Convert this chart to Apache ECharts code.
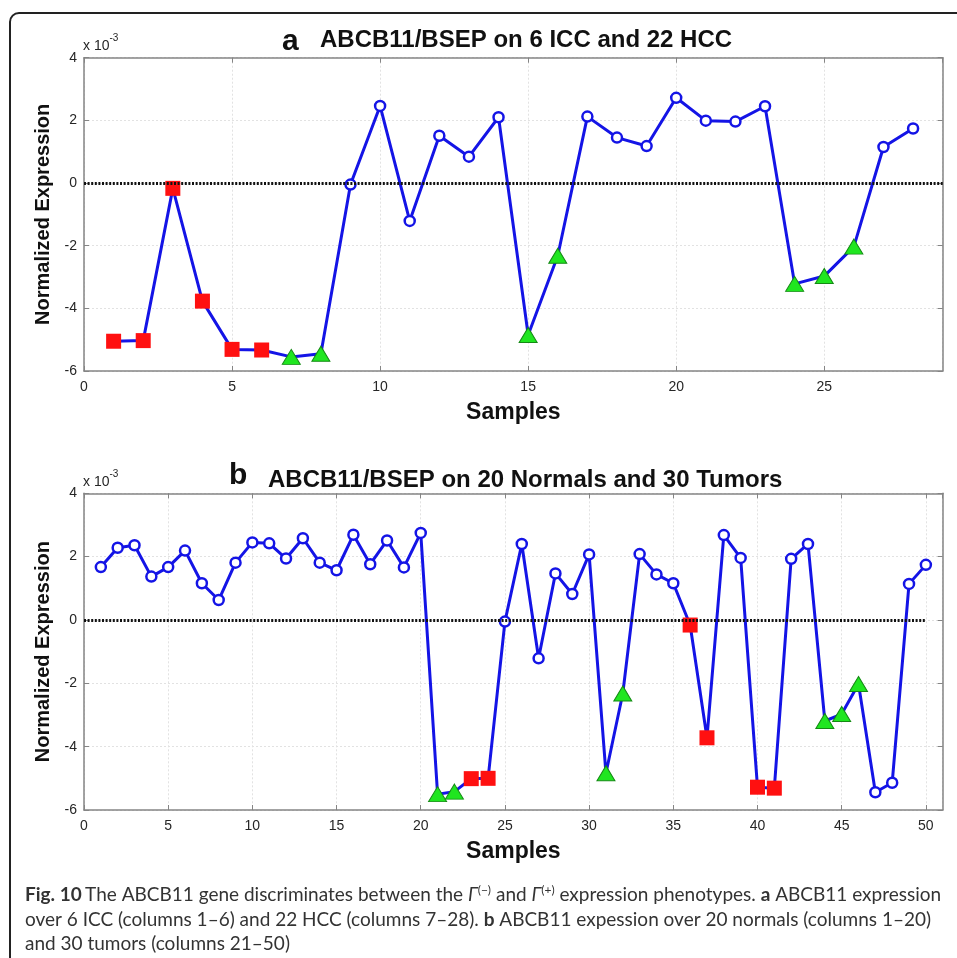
<!DOCTYPE html>
<html><head><meta charset="utf-8">
<script src="https://cdn.jsdelivr.net/npm/echarts@6/dist/echarts.min.js"></script>
<style>html,body{margin:0;padding:0;background:#fff}#c{width:957px;height:958px}</style>
</head><body><div id="c"></div>
<script>
// Panel a: 6 ICC + 22 HCC (values in units of 1e-3)
const valuesA = [-5.05,-5.03,-0.17,-3.77,-5.31,-5.33,-5.55,-5.45,-0.05,2.46,-1.21,1.51,0.84,2.10,-4.85,-2.32,2.12,1.45,1.18,2.72,1.99,1.96,2.45,-3.22,-2.97,-2.03,1.15,1.74];
const groupsA = ['s','s','s','s','s','s','t','t','o','o','o','o','o','o','t','t','o','o','o','o','o','o','o','t','t','t','o','o'];
// Panel b: 20 normals + 30 tumors
const valuesB = [1.67,2.28,2.36,1.37,1.67,2.19,1.16,0.63,1.81,2.45,2.42,1.94,2.58,1.81,1.57,2.69,1.76,2.51,1.66,2.75,
  -5.50,-5.42,-5.01,-5.00,-0.05,2.40,-1.21,1.47,0.82,2.07,-4.84,-2.32,2.08,1.44,1.16,-0.16,-3.72,2.68,1.96,-5.28,-5.31,1.93,2.40,-3.19,-2.97,-2.02,-5.44,-5.14,1.14,1.74];
const groupsB = ['o','o','o','o','o','o','o','o','o','o','o','o','o','o','o','o','o','o','o','o',
  't','t','s','s','o','o','o','o','o','o','t','t','o','o','o','s','s','o','o','s','s','o','o','t','t','t','o','o','o','o'];
const titleA = 'ABCB11/BSEP on 6 ICC and 22 HCC';
const titleB = 'ABCB11/BSEP on 20 Normals and 30 Tumors';
const yTicks = {min:-6, max:4, interval:2};
const xMaxA = 29, xMaxB = 51, zeroEndA = 29, zeroEndB = 50;

const BLUE = '#1414e6';
const MARK = {
  o: {symbol:'circle', size:10, itemStyle:{color:'#ffffff', borderColor:BLUE, borderWidth:2.5}},
  s: {symbol:'rect', size:15, itemStyle:{color:'#ff1010', borderColor:'#ff1010', borderWidth:0}},
  t: {symbol:'triangle', size:[18,15], itemStyle:{color:'#20e620', borderColor:'#148a14', borderWidth:1}}
};
function pts(vals, groups){
  return vals.map((v,i)=>{ const m = MARK[groups[i]];
    return {value:[i+1, v], symbol:m.symbol, symbolSize:m.size, itemStyle:m.itemStyle}; });
}
const AX = '#858585', LBL = '#262626', FONT = 'Liberation Sans, Arial, sans-serif';
function mainX(grid, max){
  return {type:'value', gridIndex:grid, min:0, max:max, interval:5, position:'bottom',
    name:'Samples', nameLocation:'middle', nameGap:30,
    nameTextStyle:{fontSize:23, fontWeight:'bold', color:'#111', fontFamily:FONT},
    axisLine:{onZero:false, lineStyle:{color:AX, width:1.5}},
    axisTick:{inside:true, length:5, lineStyle:{color:AX}},
    axisLabel:{fontSize:14, color:LBL, margin:9, fontFamily:FONT, showMaxLabel:false},
    splitLine:{show:true, lineStyle:{color:'#e2e2e2', type:[2,2], width:1}}};
}
function boxX(grid, max){
  return {type:'value', gridIndex:grid, min:0, max:max, interval:5, position:'top',
    axisLine:{onZero:false, lineStyle:{color:AX, width:1.5}},
    axisTick:{inside:true, length:5, lineStyle:{color:AX}},
    axisLabel:{show:false}, splitLine:{show:false}};
}
function mainY(grid){
  return {type:'value', gridIndex:grid, min:yTicks.min, max:yTicks.max, interval:yTicks.interval,
    name:'Normalized Expression', nameLocation:'middle', nameGap:30,
    nameTextStyle:{fontSize:20, fontWeight:'bold', color:'#111', fontFamily:FONT},
    axisLine:{onZero:false, lineStyle:{color:AX, width:1.5}},
    axisTick:{inside:true, length:5, lineStyle:{color:AX}},
    axisLabel:{fontSize:14, color:LBL, margin:7, fontFamily:FONT},
    splitLine:{show:true, lineStyle:{color:'#e2e2e2', type:[2,2], width:1}}};
}
function boxY(grid){
  return {type:'value', gridIndex:grid, min:yTicks.min, max:yTicks.max, interval:yTicks.interval, position:'right',
    axisLine:{onZero:false, lineStyle:{color:AX, width:1.5}},
    axisTick:{inside:true, length:5, lineStyle:{color:AX}},
    axisLabel:{show:false}, splitLine:{show:false}};
}
function lineSeries(idx, vals, groups, zeroEnd){
  return {type:'line', xAxisIndex:idx, yAxisIndex:idx, data:pts(vals, groups),
    lineStyle:{color:BLUE, width:3}, showAllSymbol:true, animation:false, z:3,
    markLine:{silent:true, symbol:'none', label:{show:false}, animation:false,
      lineStyle:{color:'#111', width:3, type:[2,1.6]},
      data:[[{coord:[0,0]},{coord:[zeroEnd,0]}]]}};
}
function supText(x, y){
  return {type:'text', left:x, top:y, style:{text:'{a|x 10}{b|-3}', rich:{
    a:{fontSize:14, fill:LBL, fontFamily:FONT, verticalAlign:'bottom'},
    b:{fontSize:10, fill:LBL, fontFamily:FONT, verticalAlign:'top', padding:[0,0,10,0]}}}, z:10};
}
function ttl(x, y, t, size){
  return {type:'text', x:x, y:y, style:{text:t, fontSize:size, fontWeight:'bold', fill:'#111', fontFamily:FONT, verticalAlign:'middle', align:'left'}, z:10};
}
const CF = 'Lato, sans-serif', CS = 19, CC = '#333333';
const capRich = {
  n:{fontSize:CS, fill:CC, fontFamily:CF},
  b:{fontSize:CS, fill:CC, fontFamily:CF, fontWeight:'bold'},
  g:{fontSize:CS, fill:CC, fontFamily:CF, fontStyle:'italic'},
  s:{fontSize:12, fill:CC, fontFamily:CF, padding:[0,0,10,0]}
};
function capLine(y, txt){
  return {type:'text', x:25, y:y, style:{text:txt, rich:capRich, verticalAlign:'middle', align:'left'}, z:10};
}

const chart = echarts.init(document.getElementById('c'), null, {renderer:'canvas'});
chart.setOption({
  animation:false, backgroundColor:'#ffffff',
  grid:[{left:84, right:14.3, top:57.7, height:313.3}, {left:84, right:14.3, top:493.3, height:316.7}],
  xAxis:[mainX(0, xMaxA), mainX(1, xMaxB), boxX(0, xMaxA), boxX(1, xMaxB)],
  yAxis:[mainY(0), mainY(1), boxY(0), boxY(1)],
  series:[lineSeries(0, valuesA, groupsA, zeroEndA), lineSeries(1, valuesB, groupsB, zeroEndB)],
  graphic:[
    {type:'rect', shape:{x:10, y:13, width:1200, height:1200, r:9}, style:{fill:'none', stroke:'#222', lineWidth:2}, z:1},
    ttl(282, 41.5, 'a', 30), ttl(320, 40, titleA, 24),
    ttl(229, 476, 'b', 30), ttl(268, 480, titleB, 24),
    supText(83, 33), supText(83, 469),
    capLine(895, '{b|Fig. 10} {n|The ABCB11 gene discriminates between the }{g|Γ}{s|(−)}{n| and }{g|Γ}{s|(+)}{n| expression phenotypes. }{b|a}{n| ABCB11 expression}'),
    capLine(920, '{n|over 6 ICC (columns 1–6) and 22 HCC (columns 7–28). }{b|b}{n| ABCB11 expession over 20 normals (columns 1–20)}'),
    capLine(944, '{n|and 30 tumors (columns 21–50)}')
  ]
});
</script></body></html>
